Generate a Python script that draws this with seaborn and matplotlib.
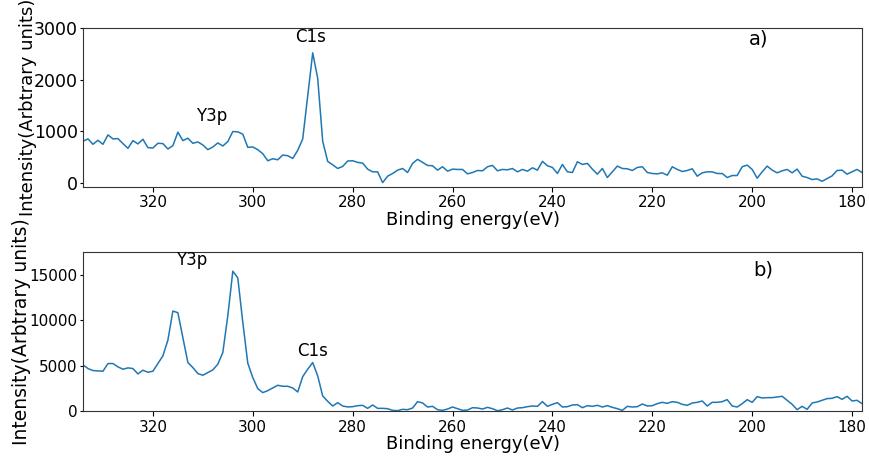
import numpy as np
import pandas as pd
import matplotlib
matplotlib.use("Agg")
import matplotlib.pyplot as plt
import seaborn as sns

# Binding energy grid (eV), 334 -> 178 in 1 eV steps
energy = list(range(334, 177, -1))

# Panel a) intensities
intensity_a = [
    811, 857, 753, 830, 753, 934, 857, 863, 766, 675,
    824, 760, 850, 688, 681, 772, 766, 662, 727, 986,
    824, 870, 772, 798, 740, 649, 701, 779, 720, 805,
    999, 993, 948, 694, 701, 649, 571, 435, 474, 454,
    545, 532, 480, 636, 857, 1687, 2518, 2025, 811, 422,
    357, 286, 325, 430, 435, 403, 390, 273, 221, 221,
    13, 137, 189, 254, 286, 208, 384, 462, 403, 345,
    338, 254, 319, 234, 273, 267, 267, 182, 208, 247,
    241, 319, 345, 241, 267, 260, 286, 221, 267, 234,
    299, 254, 423, 338, 306, 189, 364, 221, 208, 416,
    364, 384, 273, 176, 286, 111, 221, 332, 286, 280,
    247, 306, 319, 208, 189, 182, 202, 156, 319, 267,
    228, 247, 280, 137, 202, 221, 221, 189, 189, 111,
    150, 150, 319, 351, 267, 98, 221, 332, 254, 202,
    241, 267, 202, 273, 137, 111, 72, 85, 39, 91,
    143, 247, 254, 176, 221, 267, 208,
]

# Panel b) intensities
intensity_b = [
    5073, 4669, 4448, 4411, 4374, 5220, 5220, 4852, 4595, 4742,
    4669, 4080, 4485, 4264, 4374, 5220, 6065, 7793, 10991, 10807,
    8087, 5330, 4779, 4117, 3933, 4227, 4521, 5146, 6433, 10477,
    15366, 14630, 9741, 5257, 3676, 2463, 2022, 2242, 2536, 2831,
    2720, 2720, 2536, 2095, 3786, 4595, 5330, 3860, 1654, 1066,
    551, 919, 551, 450, 478, 589, 626, 294, 662, 294,
    294, 258, 74, 40, 184, 147, 331, 1030, 883, 442,
    515, 147, 74, 221, 442, 258, 74, 110, 368, 331,
    221, 405, 258, 30, 147, 331, 110, 331, 368, 478,
    552, 515, 1030, 515, 736, 920, 442, 478, 662, 699,
    368, 589, 515, 626, 442, 589, 405, 258, 74, 515,
    442, 478, 773, 552, 589, 810, 957, 846, 1030, 957,
    736, 626, 883, 957, 1104, 552, 957, 957, 1030, 1251,
    552, 442, 810, 1251, 957, 1582, 1435, 1472, 1472, 1546,
    1619, 1178, 736, 147, 515, 184, 883, 994, 1178, 1362,
    1398, 1582, 1288, 1619, 1104, 1178, 810,
]

xticks = [320, 300, 280, 260, 240, 220, 200, 180]
yticks_a = [0, 1000, 2000, 3000]
yticks_b = [0, 5000, 10000, 15000]

sns.set_style("ticks")
plt.rcParams['font.family'] = ['DejaVu Sans']
plt.rcParams['text.color'] = 'black'

df_a = pd.DataFrame({"energy": energy, "intensity": intensity_a})
df_b = pd.DataFrame({"energy": energy, "intensity": intensity_b})

fig = plt.figure(figsize=(8.69, 4.57), dpi=100)
ax1 = fig.add_axes([0.0955, 0.591, 0.8965, 0.348])
ax2 = fig.add_axes([0.0955, 0.0996, 0.8965, 0.3494])

panels = [
    (ax1, df_a, yticks_a, (-70, 3000), 12.5, 13, -0.0595),
    (ax2, df_b, yticks_b, (-50, 17500), 11, 13.5, -0.0665),
]
for ax, df, yt, ylim, ytick_fs, ylab_fs, ylab_x in panels:
    sns.lineplot(data=df, x="energy", y="intensity", ax=ax,
                 color="#1f77b4", linewidth=1.1)
    ax.set_xlim(334, 178)
    ax.set_ylim(*ylim)
    ax.set_xticks(xticks)
    ax.set_yticks(yt)
    ax.tick_params(axis="x", labelsize=11, colors="black", length=3.5,
                   width=0.8, pad=2.5)
    ax.tick_params(axis="y", labelsize=ytick_fs, colors="black", length=2.5,
                   width=0.8, pad=1.2)
    ax.set_xlabel("Binding energy(eV)", fontsize=13, color="black", labelpad=0.3)
    ax.set_ylabel("Intensity(Arbtrary units)", fontsize=ylab_fs, color="black")
    ax.yaxis.set_label_coords(ylab_x, 0.5)
    for s in ax.spines.values():
        s.set_color("#333333")
        s.set_linewidth(0.8)

ax1.text(288.4, 2827, "C1s", ha="center", va="center", fontsize=12, color="black")
ax1.text(308.3, 1298, "Y3p", ha="center", va="center", fontsize=12, color="black")
ax1.text(198.8, 2780, "a)", ha="center", va="center", fontsize=14, color="black")

ax2.text(312.2, 16593, "Y3p", ha="center", va="center", fontsize=12, color="black")
ax2.text(288.1, 6593, "C1s", ha="center", va="center", fontsize=12, color="black")
ax2.text(197.8, 15495, "b)", ha="center", va="center", fontsize=14, color="black")

fig.savefig("out.png", dpi=100)
